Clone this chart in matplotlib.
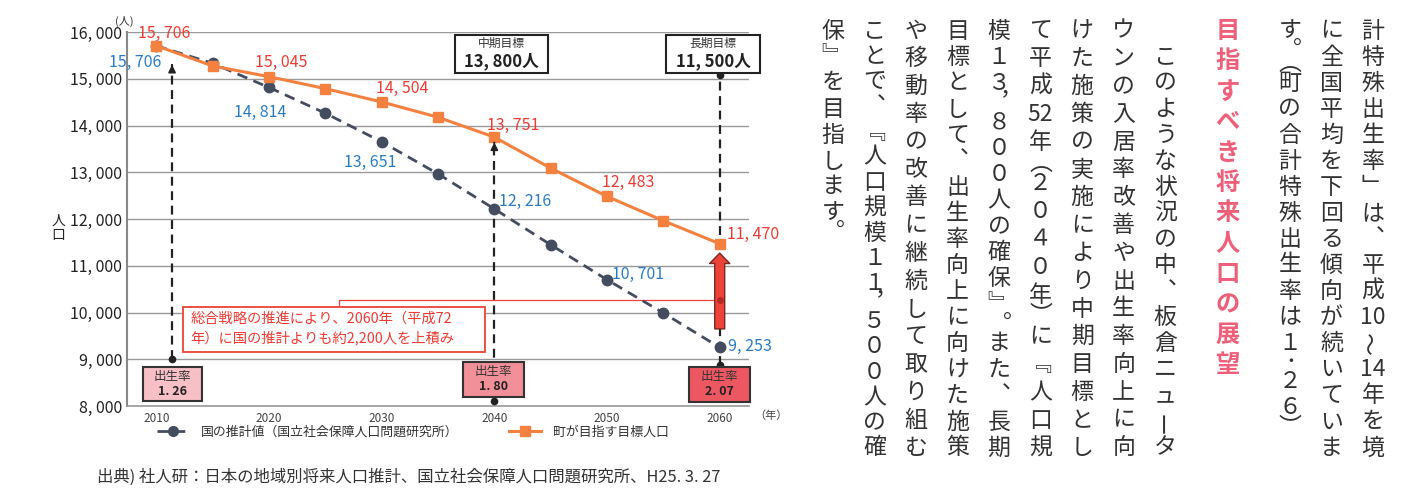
"""Population outlook chart with vertical Japanese body text."""

import re

import matplotlib

matplotlib.use("Agg")
import matplotlib.pyplot as plt
from matplotlib.lines import Line2D
from matplotlib.patches import FancyArrowPatch, Rectangle

plt.rcParams["font.family"] = ["Noto Sans CJK JP", "DejaVu Sans"]

W, H = 1423, 495

years = [2010, 2015, 2020, 2025, 2030, 2035, 2040, 2045, 2050, 2055, 2060]
national = [15706, 15330, 14814, 14263, 13651, 12966, 12216, 11449, 10701, 9989, 9253]
target = [15706, 15274, 15045, 14789, 14504, 14177, 13751, 13088, 12483, 11962, 11470]
label_years = [2010, 2020, 2030, 2040, 2050, 2060]

national_name = "国の推計値（国立社会保障人口問題研究所）"
target_name = "町が目指す目標人口"

rate_titles = ["出生率", "出生率", "出生率"]
rate_values = ["1. 26", "1. 80", "2. 07"]
goal_titles = ["中期目標", "長期目標"]
goal_values = ["13, 800人", "11, 500人"]
note_lines = ["総合戦略の推進により、2060年（平成72", "年）に国の推計よりも約2,200人を上積み"]
source = "出典) 社人研：日本の地域別将来人口推計、国立社会保障人口問題研究所、H25. 3. 27"

heading = "目指すべき将来人口の展望"
body_columns = [
    "計特殊出生率」は、平成10～14年を境",
    "に全国平均を下回る傾向が続いていま",
    "す。（町の合計特殊出生率は１．２６）",
    "　このような状況の中、板倉ニュータ",
    "ウンの入居率改善や出生率向上に向",
    "けた施策の実施により中期目標とし",
    "て平成52年（２０４０年）に『人口規",
    "模１３，８００人の確保』。また、長期",
    "目標として、出生率向上に向けた施策",
    "や移動率の改善に継続して取り組む",
    "ことで、『人口規模１１，５００人の確",
    "保』を目指します。",
]

ORANGE = "#f4813f"
SLATE = "#444d5f"
RED_TXT = "#ee3b33"
BLUE_TXT = "#2a7bc5"
RED = "#ec4338"


def fmt(v):
    return f"{v:,}".replace(",", ", ")


fig = plt.figure(figsize=(W / 100, H / 100), dpi=100)
ax = fig.add_axes([127 / W, 1 - 406 / H, 622 / W, 374 / H])
ax.set_xlim(2007.4, 2062.6)
ax.set_ylim(8000, 16000)

yt = list(range(8000, 16001, 1000))
ax.set_yticks(yt, [fmt(v) for v in yt], fontsize=11.5, color="#222")
ax.set_xticks(label_years, [str(y) for y in label_years], fontsize=8.5, color="#444")
ax.tick_params(length=0)
ax.tick_params(axis="y", pad=3.5)
ax.tick_params(axis="x", pad=4)
ax.grid(axis="y", color="#9a9a9a", lw=1)
ax.set_axisbelow(True)
for side in ("top", "right"):
    ax.spines[side].set_visible(False)
ax.spines["left"].set_color("#888")
ax.spines["left"].set_linewidth(1.5)
ax.spines["bottom"].set_color("#9a9a9a")
ax.spines["bottom"].set_linewidth(1.2)


# dashed guide arrows
def guide(x, y0, y1, head=True):
    ax.plot([x, x], [y0, y1], color="#222", lw=1.6, ls=(0, (4, 2.5)), zorder=3)
    ax.plot([x], [y0], "o", color="#222", ms=4.5, zorder=6)
    if head:
        ax.annotate("", xy=(x, y1), xytext=(x, y1 - 10),
                    arrowprops=dict(arrowstyle="-|>", color="#222", lw=1.2,
                                    mutation_scale=11, shrinkA=0, shrinkB=0), zorder=6)
    else:
        ax.plot([x], [y1], "o", color="#222", ms=4.5, zorder=6)


guide(2011.4, 9000, 15300)
guide(2040, 8107, 13640)
guide(2060, 8877, 15080, head=False)

ax.plot(years, national, color=SLATE, lw=2, ls=(0, (3.8, 2.4)), marker="o", ms=7.5, zorder=4)
ax.plot(years, target, color=ORANGE, lw=2.2, marker="s", ms=7.5, zorder=5)

nat_off = [(-21, -17), (-9, -25), (-11, -21), (5, 7), (5, 5), (8, 1)]
tgt_off = [(8, 12), (12, 14), (21, 13), (19, 12), (21, 14), (7, 9)]
for i, yr in enumerate(label_years):
    k = years.index(yr)
    dx, dy = nat_off[i]
    ax.annotate(fmt(national[k]), (yr, national[k]), xytext=(dx, dy), textcoords="offset pixels",
                ha="left" if dx > 0 else "center", va="center", color=BLUE_TXT, fontsize=11.5, zorder=7)
    dx, dy = tgt_off[i]
    ax.annotate(fmt(target[k]), (yr, target[k]), xytext=(dx, dy), textcoords="offset pixels",
                ha="left" if i == len(label_years) - 1 else "center", va="center",
                color=RED_TXT, fontsize=11.5, zorder=7)

# red block arrow with note
ax.add_patch(FancyArrowPatch((2060, 9590), (2060, 11330),
                             arrowstyle="simple,head_length=0.75,head_width=1.45,tail_width=0.72",
                             mutation_scale=10, fc=RED, ec="#7a2a22", lw=1, zorder=6))
ax.plot([2026.2, 2026.2, 2060], [10117, 10267, 10267], color=RED, lw=0.9, zorder=3)
ax.plot([2060], [10267], "o", color="#b52a25", ms=4, zorder=7)
ax.add_patch(Rectangle((2012.35, 9155), 26.85, 962, fc="white", ec=RED, lw=1.3, zorder=5))
for line, yv in zip(note_lines, [9860, 9455]):
    ax.text(2013.0, yv, line, color=RED_TXT, fontsize=10.3, va="center", zorder=6)

# birth-rate boxes
for xc, (x0, x1), (y0, y1), fc, title, val in zip(
        [2011.45, 2039.9, 2060.0], [(2008.8, 2014.1), (2037.2, 2042.6), (2057.3, 2062.7)],
        [(8107, 8834), (8193, 8941), (8086, 8834)],
        ["#f7bfc6", "#f2909a", "#ec5761"], rate_titles, rate_values):
    ax.add_patch(Rectangle((x0, y0), x1 - x0, y1 - y0, fc=fc, ec="#333", lw=1.5,
                           zorder=8, clip_on=False))
    ym = (y0 + y1) / 2
    ax.text(xc, ym + 170, title, ha="center", va="center", fontsize=9, color="#333", zorder=9)
    ax.text(xc, ym - 150, val, ha="center", va="center", fontsize=9, color="#222",
            fontweight="bold", zorder=9)

# goal boxes
for (x0, x1), title, val in zip([(2036.5, 2044.8), (2055.2, 2063.6)], goal_titles, goal_values):
    ax.add_patch(Rectangle((x0, 15123), x1 - x0, 813, fc="white", ec="#222", lw=1.5,
                           zorder=8, clip_on=False))
    xc = (x0 + x1) / 2
    ax.text(xc, 15765, title, ha="center", va="center", fontsize=8.5, color="#333", zorder=9)
    ax.text(xc, 15385, val, ha="center", va="center", fontsize=12, color="#222",
            fontweight="bold", zorder=9)

ax.text(-0.004, 1.027, "(人)", transform=ax.transAxes, ha="center", va="center", fontsize=8, color="#333")
ax.text(1.008, -0.027, "（年）", transform=ax.transAxes, ha="left", va="center", fontsize=8, color="#444")
fig.text(58 / W, 1 - 228 / H, "人\n口", ha="center", va="center", fontsize=10, linespacing=1.05, color="#222")

handles = [
    Line2D([], [], color=SLATE, lw=2, ls=(0, (3.8, 2.4)), marker="o", ms=7),
    Line2D([], [], color=ORANGE, lw=2.2, marker="s", ms=7),
]
ax.legend(handles, [national_name, target_name], loc="upper left",
          bbox_to_anchor=((157 - 127) / 622, (406 - 426) / 374), ncol=2, frameon=False,
          fontsize=9.3, handlelength=2.5, handletextpad=0.9, columnspacing=3.9,
          borderaxespad=0, borderpad=0, labelcolor="#333")

fig.text(97 / W, 1 - 477 / H, source, fontsize=11.8, color="#333", va="center")

# vertical text
VERT = {"、": "︑", "。": "︒", "，": "︐", "（": "︵", "）": "︶",
        "「": "﹁", "」": "﹂", "『": "﹃", "』": "﹄"}
SHIFT = {"．": (7, -7)}
ROTATE = set("～ー")
HALF = set("。，．（）")


def vertical(x, text, y_top, y_end=None, pitch=26.0, **kw):
    tokens = re.findall(r"[0-9]+|.", text)
    weights = [0.5 if t in HALF else 1.0 for t in tokens]
    pos = [0.0]
    for a, b in zip(weights, weights[1:]):
        pos.append(pos[-1] + (a + b) / 2)
    step = pitch if y_end is None else (y_end - y_top) / pos[-1]
    for tok, p in zip(tokens, pos):
        if tok == "　":
            continue
        dx, dy = SHIFT.get(tok, (0, 0))
        fig.text((x + dx) / W, 1 - (y_top + p * step + dy) / H, VERT.get(tok, tok),
                 ha="center", va="center", rotation=90 if tok in ROTATE else 0, **kw)


slots = [0, 1, 2, 5, 6, 7, 8, 9, 10, 11, 12, 13]
body_kw = dict(fontsize=16.5, color="#333")
for slot, col in zip(slots, body_columns):
    x = 1373 - 41.55 * slot
    ragged = col.endswith("）") or col.endswith("。")
    vertical(x, col, 31, None if ragged else 448, **body_kw)
vertical(1373 - 41.55 * 3.5, heading, 31, pitch=30.4, fontsize=17.5, color="#ef5f7a", fontweight="bold")

fig.savefig("out.png", dpi=100)
